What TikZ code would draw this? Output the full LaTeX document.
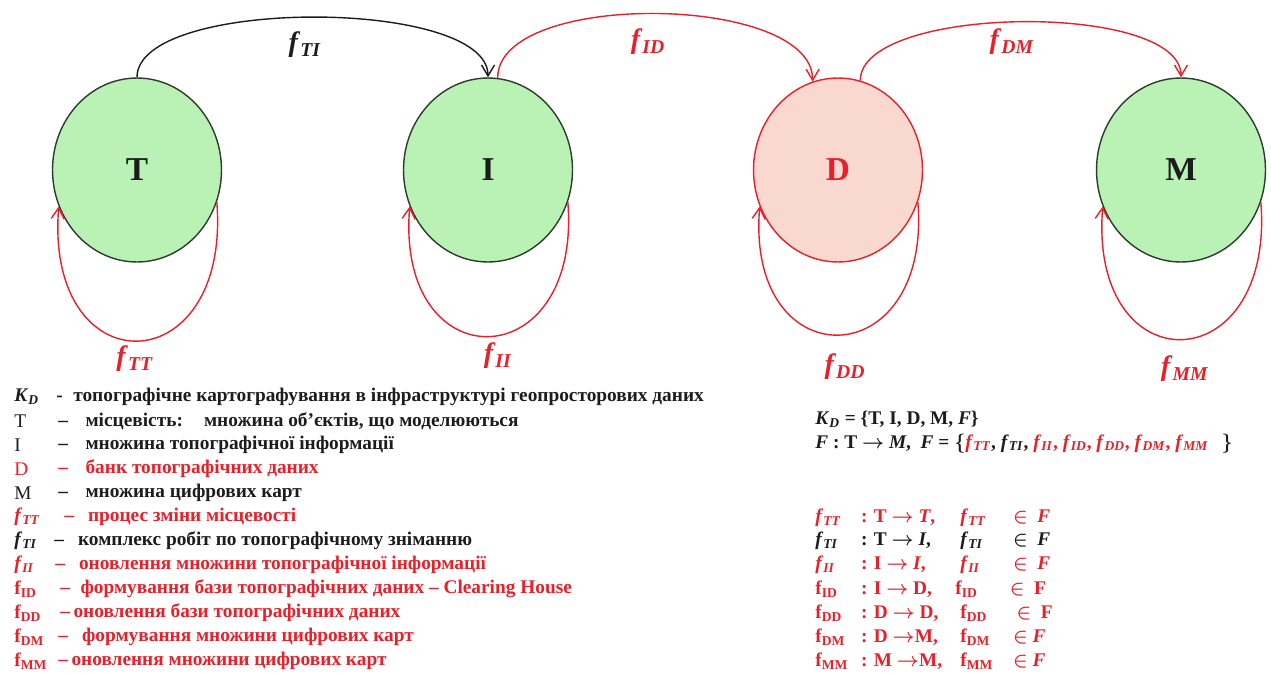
\documentclass[tikz,border=0pt]{standalone}
\usepackage{fontspec}
\setmainfont{Liberation Serif}
\usetikzlibrary{shapes.geometric,arrows.meta}
\definecolor{TextColor}{HTML}{1C1C1C}
\definecolor{RedLine}{HTML}{E8202A}
\definecolor{SetFill}{HTML}{B9F2B4}
\definecolor{BankFill}{HTML}{F8D8CF}
\definecolor{SetBorder}{HTML}{2E3B2E}

\newcommand{\fItal}[1]{\textit{f}\textsubscript{\textit{#1}}}
\newcommand{\fRom}[1]{f\textsubscript{#1}}

\begin{document}
\begin{tikzpicture}[
    x=0.02cm, y=-0.02cm,
    setnode/.style={ellipse, draw=SetBorder, fill=SetFill, line width=0.8pt, minimum width=3.38cm, minimum height=3.68cm, inner sep=0pt, font=\fontsize{19}{22}\selectfont\bfseries, text=TextColor},
    flowedge/.style={draw=RedLine, line width=0.8pt, -{Straight Barb[length=2.2mm,width=2.6mm]}},
    loopedge/.style={draw=RedLine, line width=0.8pt, -{Straight Barb[length=2.2mm,width=2.6mm]}},
    arclabel/.style={font=\fontsize{16}{18}\selectfont\bfseries, text=RedLine},
    legsym/.style={anchor=west, inner sep=0pt, font=\fontsize{11}{13}\selectfont\boldmath, text=TextColor},
    legtxt/.style={anchor=west, inner sep=0pt, font=\fontsize{11}{13}\selectfont\bfseries, text=TextColor},
    rowtxt/.style={anchor=west, inner sep=0pt, font=\fontsize{11}{13}\selectfont\bfseries\boldmath, text=RedLine}
]

\useasboundingbox (0,0) rectangle (1271,673);

% sets
\node[setnode] (T) at (137,170) {T};
\node[setnode] (I) at (488,170) {I};
\node[setnode, draw=RedLine, fill=BankFill, text=RedLine] (D) at (838,170) {D};
\node[setnode] (M) at (1181,170) {M};

% mappings between sets
\draw[flowedge, draw=TextColor] (T.north) .. controls +(0,-80) and +(0,-80) .. (I.north);
\draw[flowedge] (I.84) .. controls +(0,-88) and +(0,-88) .. (D.106);
\draw[flowedge] (D.76) .. controls +(0,-76) and +(0,-76) .. (M.north);

\node[arclabel, text=TextColor] (lTI) at (305,45) {\fItal{TI}};
\node[arclabel] (lID) at (648,42) {\fItal{ID}};
\node[arclabel] (lDM) at (1012,42) {\fItal{DM}};

% self loops
\draw[loopedge] (T.-22) .. controls +(14,182) and +(-14,182) .. (T.205);
\draw[loopedge] (I.-22) .. controls +(14,176) and +(-14,176) .. (I.205);
\draw[loopedge] (D.-22) .. controls +(14,174) and +(-14,174) .. (D.205);
\draw[loopedge] (M.-22) .. controls +(14,180) and +(-14,180) .. (M.205);

\node[arclabel] (lTT) at (135,359) {\fItal{TT}};
\node[arclabel] (lII) at (498,356) {\fItal{II}};
\node[arclabel] (lDD) at (845,367) {\fItal{DD}};
\node[arclabel] (lMM) at (1185,369) {\fItal{MM}};

% legend
\node[legsym] (sKD) at (14,397) {\textbf{\textit{K}\textsubscript{\textit{D}}}};
\node[legtxt] (tKD) at (56,397) {-\hspace{6pt}топографічне картографування в інфраструктурі геопросторових даних};
\node[legsym] (sT) at (14,421) {T};
\node[legtxt] (tT) at (58,421) {–\hspace{10pt}місцевість:\hspace{12pt}множина об’єктів, що моделюються};
\node[legsym] (sI) at (14,445) {I};
\node[legtxt] (tI) at (58,445) {–\hspace{10pt}множина топографічної інформації};
\node[legsym, text=RedLine] (sD) at (14,469) {D};
\node[legtxt, text=RedLine] (tD) at (58,469) {–\hspace{10pt}банк топографічних даних};
\node[legsym] (sM) at (14,493) {M};
\node[legtxt] (tM) at (58,493) {–\hspace{10pt}множина цифрових карт};
\node[legsym, text=RedLine] (sTT) at (14,517) {\textbf{\fItal{TT}}};
\node[legtxt, text=RedLine] (tTT) at (64,517) {–\hspace{8pt}процес зміни місцевості};
\node[legsym] (sTI) at (14,541) {\textbf{\fItal{TI}}};
\node[legtxt] (tTI) at (54,541) {–\hspace{8pt}комплекс робіт по топографічному зніманню};
\node[legsym, text=RedLine] (sII) at (14,565) {\textbf{\fItal{II}}};
\node[legtxt, text=RedLine] (tII) at (55,565) {–\hspace{8pt}оновлення множини топографічної інформації};
\node[legsym, text=RedLine] (sID) at (14,589) {\textbf{\fRom{ID}}};
\node[legtxt, text=RedLine] (tID) at (60,589) {–\hspace{6pt}формування бази топографічних даних – Clearing House};
\node[legsym, text=RedLine] (sDD) at (14,613) {\textbf{\fRom{DD}}};
\node[legtxt, text=RedLine] (tDD) at (60,613) {–\hspace{2pt}оновлення бази топографічних даних};
\node[legsym, text=RedLine] (sDM) at (14,637) {\textbf{\fRom{DM}}};
\node[legtxt, text=RedLine] (tDM) at (58,637) {–\hspace{8pt}формування множини цифрових карт};
\node[legsym, text=RedLine] (sMM) at (14,661) {\textbf{\fRom{MM}}};
\node[legtxt, text=RedLine] (tMM) at (58,661) {–\hspace{2pt}оновлення множини цифрових карт};

% definition of the mapping set
\node[rowtxt, text=TextColor] (defK) at (815,419) {\textit{K}\textsubscript{\textit{D}} = \{T, I, D, M, \textit{F}\}};
\node[rowtxt, text=TextColor] (defF) at (815,443) {\textit{F} : T $\rightarrow$ \textit{M},\ \ \textit{F} = $\big\{$\textcolor{RedLine}{\fItal{TT}}, \fItal{TI}, \textcolor{RedLine}{\fItal{II}, \fItal{ID}, \fItal{DD}, \fItal{DM}, \fItal{MM}}\,\ \ $\big\}$};

\node[rowtxt] (mTT) at (815,518) {\makebox[26pt][l]{\fItal{TT}}: T $\rightarrow$ \textit{T},};
\node[rowtxt] (eTT) at (960,518) {\makebox[30pt][l]{\fItal{TT}}$\in$\ \ \textit{F}};
\node[rowtxt, text=TextColor] (mTI) at (815,541) {\makebox[26pt][l]{\fItal{TI}}: T $\rightarrow$ \textit{I},};
\node[rowtxt, text=TextColor] (eTI) at (960,541) {\makebox[30pt][l]{\fItal{TI}}$\in$\ \ \textit{F}};
\node[rowtxt] (mII) at (815,565) {\makebox[26pt][l]{\fItal{II}}: I $\rightarrow$ \textit{I},};
\node[rowtxt] (eII) at (960,565) {\makebox[30pt][l]{\fItal{II}}$\in$\ \ \textit{F}};
\node[rowtxt] (mID) at (815,589) {\makebox[26pt][l]{\fRom{ID}}: I $\rightarrow$ D,};
\node[rowtxt] (eID) at (955,589) {\makebox[31pt][l]{\fRom{ID}}$\in$\ \ F};
\node[rowtxt] (mDD) at (815,613) {\makebox[26pt][l]{\fRom{DD}}: D $\rightarrow$ D,};
\node[rowtxt] (eDD) at (960,613) {\makebox[32pt][l]{\fRom{DD}}$\in$\ \ F};
\node[rowtxt] (mDM) at (815,637) {\makebox[26pt][l]{\fRom{DM}}: D $\rightarrow$M,};
\node[rowtxt] (eDM) at (960,637) {\makebox[30pt][l]{\fRom{DM}}$\in$\ \textit{F}};
\node[rowtxt] (mMM) at (815,661) {\makebox[26pt][l]{\fRom{MM}}: M $\rightarrow$M,};
\node[rowtxt] (eMM) at (960,661) {\makebox[30pt][l]{\fRom{MM}}$\in$\ \textit{F}};

\end{tikzpicture}
\end{document}
